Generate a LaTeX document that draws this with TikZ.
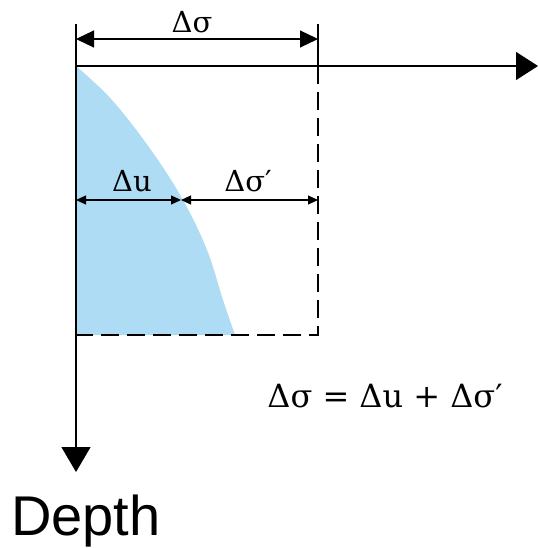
\documentclass[tikz,border=0pt]{standalone}
\usepackage{fontspec}
\setmainfont{DejaVu Serif}
\newfontfamily\labelfont{Liberation Sans}
\usetikzlibrary{arrows.meta, calc}

\begin{document}
\begin{tikzpicture}[
    x=1pt, y=-1pt,
    axis/.style={line width=1.3pt, -{Triangle[length=22pt, width=28pt]}},
    ext/.style={line width=1.2pt},
    boxline/.style={line width=1.2pt, dash pattern=on 18pt off 8pt},
    dimbig/.style={line width=1.2pt, {Triangle[length=18pt, width=17pt]}-{Triangle[length=18pt, width=17pt]}},
    dimsmall/.style={line width=1.2pt, {Triangle[length=10pt, width=9pt]}-{Triangle[length=10pt, width=9pt]}},
    lbl/.style={font=\fontsize{29}{32}\selectfont, inner sep=0pt},
    eqn/.style={font=\fontsize{32}{35}\selectfont, inner sep=0pt},
]
\useasboundingbox (0,0) rectangle (538,548);

% --- Key points ---
\coordinate (origin) at (76,66);
\coordinate (xend)   at (538,66);
\coordinate (yend)   at (76,472);
\coordinate (corner) at (318,335);
\coordinate (bottom) at (76,335);
\coordinate (topL)   at (76,24);
\coordinate (topR)   at (318,24);
\coordinate (axR)    at (318,66);
\coordinate (dimL)   at (76,39);
\coordinate (dimR)   at (318,39);
\coordinate (midL)   at (76,200);
\coordinate (midC)   at (181,200);
\coordinate (midR)   at (318,200);

% --- Pore pressure region ---
\fill[fill={rgb,255:red,174;green,220;blue,244}]
    plot[smooth, tension=0.6] coordinates {(76,66) (112,100) (151,150) (183,200) (207,250) (223,300) (235,335)}
    -- (bottom) -- cycle;

% --- Box of total stress ---
\draw[boxline] (axR) -- (corner) -- (bottom);
\draw[ext] (topL) -- (origin);
\draw[ext] (topR) -- (axR);

% --- Axes ---
\draw[axis] (origin) -- (xend);
\draw[axis, -{Triangle[length=25pt, width=29pt]}] (origin) -- (yend);

% --- Dimensions ---
\draw[dimbig] (dimL) -- (dimR);
\draw[dimsmall] (midL) -- (midC);
\draw[dimsmall] (midC) -- (midR);

\node[lbl, anchor=base] (dsig)  at (192,33)  {Δσ};
\node[lbl, anchor=base] (du)    at (132,191) {Δu};
\node[lbl, anchor=base] (dsigp) at (248,191) {Δσ′};
\node[eqn, anchor=base] (eq)    at (385,407) {Δσ = Δu + Δσ′};

\node[font=\labelfont\fontsize{56}{60}\selectfont, anchor=base, inner sep=0pt] (depth) at (86,535) {Depth};

\end{tikzpicture}
\end{document}
